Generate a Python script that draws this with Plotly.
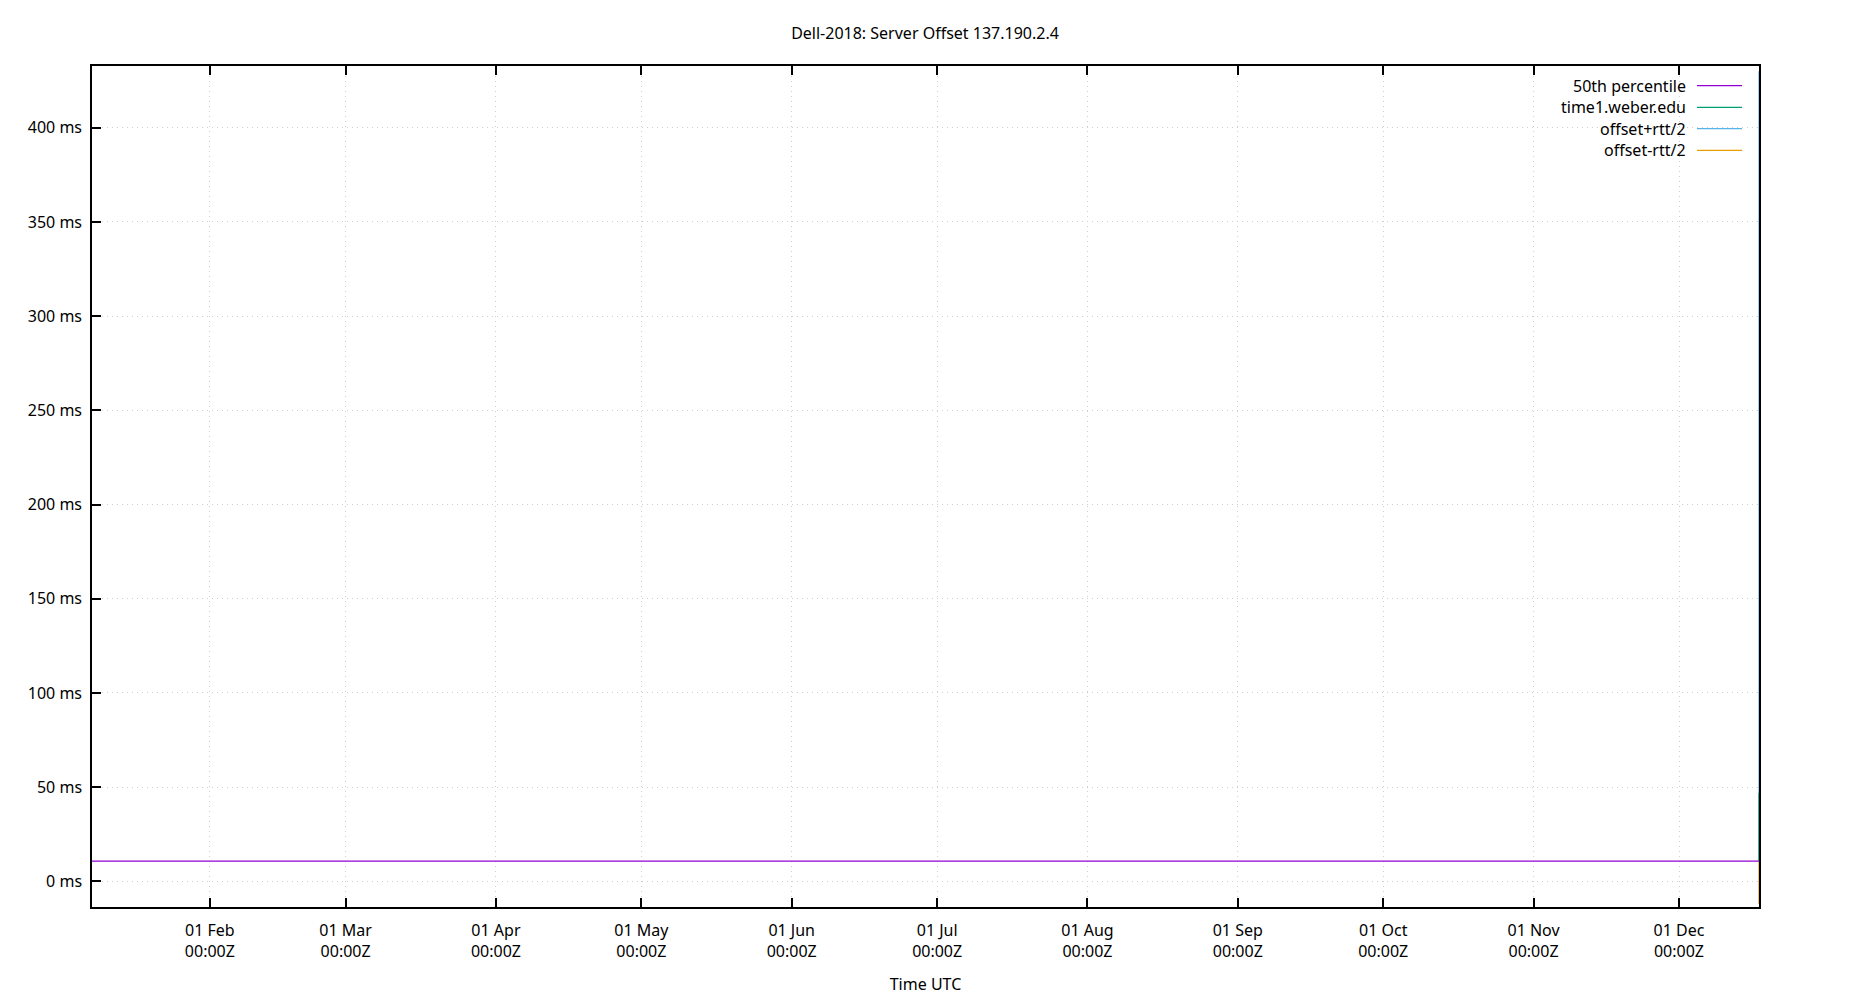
import plotly.graph_objects as go

# ---- data ----
x_start = "2018-01-07 16:35"
x_end = "2018-12-17 12:00"

p50_times = ["2018-01-07 16:35", "2018-12-17 12:00"]
p50_values = [10.7, 10.7]

srv_times = ["2018-12-17 11:50", "2018-12-17 12:00", "2018-12-17 12:00"]
srv_values = [10.7, 18.0, 47.0]
plus_times = ["2018-12-17 11:50", "2018-12-17 12:00", "2018-12-17 12:00"]
plus_values = [11.0, 20.0, 430.0]
minus_times = ["2018-12-17 11:50", "2018-12-17 12:00", "2018-12-17 12:00"]
minus_values = [10.4, 8.0, -12.0]

series_names = ["50th percentile", "time1.weber.edu", "offset+rtt/2", "offset-rtt/2"]
series_colors = ["#9400d3", "#009e73", "#56b4e9", "#e69f00"]

month_ticks = ["2018-02-01", "2018-03-01", "2018-04-01", "2018-05-01", "2018-06-01",
               "2018-07-01", "2018-08-01", "2018-09-01", "2018-10-01", "2018-11-01",
               "2018-12-01"]
month_labels = ["01 Feb<br>00:00Z", "01 Mar<br>00:00Z", "01 Apr<br>00:00Z",
                "01 May<br>00:00Z", "01 Jun<br>00:00Z", "01 Jul<br>00:00Z",
                "01 Aug<br>00:00Z", "01 Sep<br>00:00Z", "01 Oct<br>00:00Z",
                "01 Nov<br>00:00Z", "01 Dec<br>00:00Z"]
y_ticks = [0, 50, 100, 150, 200, 250, 300, 350, 400]
y_labels = [f"{v} ms" for v in y_ticks]
y_range = [-13.6, 432.8]

FONT = "Noto Sans"

fig = go.Figure()
data = [(p50_times, p50_values), (srv_times, srv_values),
        (plus_times, plus_values), (minus_times, minus_values)]
# draw order: bounds first, percentile on top
for idx in [3, 2, 1, 0]:
    xs, ys = data[idx]
    fig.add_trace(go.Scatter(x=xs, y=ys, mode="lines", name=series_names[idx],
                             line=dict(color=series_colors[idx], width=1.2),
                             showlegend=False))

# page offset of the plot div inside the browser body
OFF = 8
W, H = 1850, 1000
ml, mr, mt, mb = 84, 99, 58, 101
pw, ph = W - ml - mr, H - mt - mb


def px(x):
    return (x - OFF - ml) / pw


def py(y):
    return 1 - (y - OFF - mt) / ph


# custom legend (text right-aligned, sample line on the right, gnuplot style)
row_y = [85.7, 107.3, 128.6, 150.3]
for i, name in enumerate(series_names):
    fig.add_annotation(x=px(1688), y=py(row_y[i]), xref="paper", yref="paper",
                       text=name, showarrow=False, xanchor="right", yanchor="middle",
                       font=dict(family=FONT, size=16, color="#000000"))
    fig.add_shape(type="line", xref="paper", yref="paper",
                  x0=px(1697), x1=px(1742), y0=py(row_y[i]), y1=py(row_y[i]),
                  line=dict(color=series_colors[i], width=1.2))

fig.update_layout(
    width=W, height=H,
    margin=dict(l=ml, r=mr, t=mt, b=mb),
    paper_bgcolor="white", plot_bgcolor="white",
    font=dict(family=FONT, size=16, color="#000000"),
    title=dict(text="Dell-2018: Server Offset 137.190.2.4",
               x=px(925), xanchor="center", xref="paper",
               y=1 - (33 - OFF) / H, yanchor="middle",
               font=dict(family=FONT, size=16)),
    showlegend=False,
)
fig.update_xaxes(
    type="date", range=[x_start, x_end],
    tickmode="array", tickvals=month_ticks, ticktext=month_labels,
    ticks="inside", ticklen=9, tickwidth=1.5, tickcolor="#000000",
    ticklabelstandoff=8,
    showline=True, linecolor="#000000", linewidth=1.5, mirror="ticks",
    showgrid=True, gridcolor="#cfcfcf", griddash="1px,4px", gridwidth=1,
    zeroline=False,
    title=dict(text="Time UTC", font=dict(family=FONT, size=16), standoff=18),
)
fig.update_yaxes(
    range=y_range, tickmode="array", tickvals=y_ticks, ticktext=y_labels,
    ticks="inside", ticklen=9, tickwidth=1.5, tickcolor="#000000",
    ticklabelstandoff=5,
    showline=True, linecolor="#000000", linewidth=1.5, mirror=True,
    showgrid=True, gridcolor="#cfcfcf", griddash="1px,4px", gridwidth=1,
    zeroline=False,
)

fig.write_html("out.html")
